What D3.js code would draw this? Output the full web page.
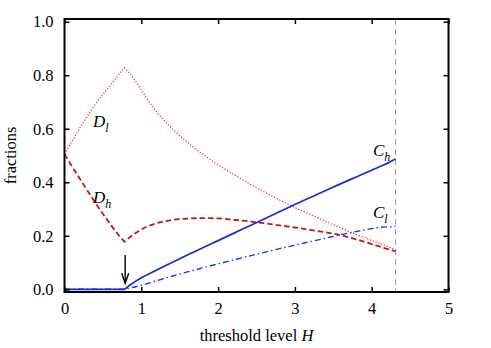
<!DOCTYPE html>
<html>
<head>
<meta charset="utf-8">
<script src="https://cdn.jsdelivr.net/npm/d3@7"></script>
<style>
  body { margin: 0; background: #fff; }
  svg { display: block; font-family: "Liberation Serif", "DejaVu Serif", serif; }
</style>
</head>
<body>
<svg id="chart" width="491" height="348"></svg>
<script>
// threshold level H grid and the four fraction curves
const dlH = [0, 0.2, 0.4, 0.6, 0.78, 0.9, 1.0, 1.1, 1.2, 1.4, 1.6, 1.8, 2.0, 2.2, 2.4, 2.6, 2.8, 3.0, 3.2, 3.4, 3.6, 3.8, 4.0, 4.2, 4.31];
const dlV = [0.505, 0.603, 0.69, 0.764, 0.828, 0.788, 0.745, 0.702, 0.663, 0.601, 0.549, 0.505, 0.465, 0.43, 0.396, 0.364, 0.334, 0.306, 0.28, 0.254, 0.229, 0.205, 0.183, 0.161, 0.148];

const dhH = [0, 0.1, 0.2, 0.3, 0.4, 0.5, 0.6, 0.7, 0.78, 0.9, 1.0, 1.2, 1.4, 1.6, 1.8, 2.0, 2.2, 2.4, 2.6, 2.8, 3.0, 3.2, 3.4, 3.6, 3.8, 4.0, 4.2, 4.31];
const dhV = [0.505, 0.458, 0.413, 0.368, 0.324, 0.282, 0.242, 0.204, 0.178, 0.205, 0.224, 0.247, 0.259, 0.264, 0.266, 0.265, 0.26, 0.254, 0.247, 0.239, 0.231, 0.222, 0.213, 0.202, 0.187, 0.169, 0.151, 0.142];

const chH = [0, 0.78, 0.85, 0.9, 1.0, 1.2, 1.4, 1.6, 1.8, 2.0, 2.2, 2.4, 2.6, 2.8, 3.0, 3.2, 3.4, 3.6, 3.8, 4.0, 4.17, 4.31];
const chV = [0, 0, 0.015, 0.025, 0.043, 0.072, 0.1, 0.128, 0.155, 0.182, 0.209, 0.236, 0.263, 0.29, 0.317, 0.343, 0.369, 0.395, 0.42, 0.445, 0.466, 0.487];

const clH = [0, 0.78, 1.0, 1.2, 1.4, 1.6, 1.8, 2.0, 2.2, 2.4, 2.6, 2.8, 3.0, 3.2, 3.4, 3.6, 3.8, 4.0, 4.07, 4.31];
const clV = [0, 0, 0.015, 0.032, 0.049, 0.065, 0.08, 0.095, 0.11, 0.124, 0.138, 0.152, 0.165, 0.178, 0.191, 0.204, 0.216, 0.227, 0.23, 0.235];

const xTicks = [0, 1, 2, 3, 4, 5];
const yTicks = [0, 0.2, 0.4, 0.6, 0.8, 1.0];
const kinkH = 0.78;     // curves change regime here
const cutoffH = 4.31;   // dashed vertical line
const onsetH = 0.79;    // arrow position

const svg = d3.select('#chart');
const plotL = 64.5, plotR = 448.5, plotT = 19, plotB = 292;

const x = d3.scaleLinear().domain([0, 5]).range([plotL, plotR]);
const y = d3.scaleLinear().domain([-0.01, 1.01]).range([plotB, plotT]);

const line = d3.line().x(d => x(d[0])).y(d => y(d[1])).curve(d3.curveMonotoneX);

// smooth each piece separately so the kink at H = 0.78 stays sharp
function piecewise(hs, vs) {
    const pts = hs.map((h, i) => [h, vs[i]]);
    const a = pts.filter(p => p[0] <= kinkH);
    const b = pts.filter(p => p[0] >= kinkH);
    const c = line(b);
    return a.length > 1 ? line(a) + c.replace(/^M/, 'L') : c;
}

// cutoff line
svg.append('line')
    .attr('x1', x(cutoffH)).attr('x2', x(cutoffH))
    .attr('y1', plotT).attr('y2', plotB)
    .style('stroke', '#999')
    .style('stroke-width', 1)
    .style('stroke-dasharray', '6,4');

// curves
svg.append('path')
    .attr('d', piecewise(dlH, dlV))
    .style('fill', 'none')
    .style('stroke', '#ff3030')
    .style('stroke-width', 1.2)
    .style('stroke-dasharray', '1.3,1.7');

svg.append('path')
    .attr('d', piecewise(dhH, dhV))
    .style('fill', 'none')
    .style('stroke', '#c01818')
    .style('stroke-width', 1.8)
    .style('stroke-dasharray', '5.5,3');

svg.append('path')
    .attr('d', piecewise(clH, clV))
    .style('fill', 'none')
    .style('stroke', '#2030ff')
    .style('stroke-width', 1.4)
    .style('stroke-dasharray', '6,3,1.5,3');

svg.append('path')
    .attr('d', piecewise(chH, chV))
    .style('fill', 'none')
    .style('stroke', '#1a2acc')
    .style('stroke-width', 1.7);

// arrow marking the onset
const ax = x(onsetH);
svg.append('line')
    .attr('x1', ax).attr('x2', ax)
    .attr('y1', y(0.128)).attr('y2', y(0.024))
    .style('stroke', '#000')
    .style('stroke-width', 1.4);
svg.append('path')
    .attr('d', `M${ax - 3.5},${y(0.06)} L${ax},${y(0.022)} L${ax + 3.5},${y(0.06)}`)
    .style('fill', 'none')
    .style('stroke', '#000')
    .style('stroke-width', 1.4);

// frame with inward ticks on all four sides
const tickLen = 5;
const axisG = svg.append('g');
axisG.append('g')
    .attr('transform', `translate(0,${plotB})`)
    .call(d3.axisBottom(x).tickValues(xTicks).tickSizeInner(-tickLen).tickSizeOuter(0).tickPadding(10).tickFormat(d3.format('d')));
axisG.append('g')
    .attr('transform', `translate(0,${plotT})`)
    .call(d3.axisTop(x).tickValues(xTicks).tickSizeInner(-tickLen).tickSizeOuter(0).tickFormat(''));
axisG.append('g')
    .attr('transform', `translate(${plotL},0)`)
    .call(d3.axisLeft(y).tickValues(yTicks).tickSizeInner(-tickLen).tickSizeOuter(0).tickPadding(11).tickFormat(d3.format('.1f')));
axisG.append('g')
    .attr('transform', `translate(${plotR},0)`)
    .call(d3.axisRight(y).tickValues(yTicks).tickSizeInner(-tickLen).tickSizeOuter(0).tickFormat(''));

axisG.selectAll('g').attr('font-family', null).attr('font-size', null);
axisG.selectAll('.domain').remove();
axisG.selectAll('.tick line').style('stroke', '#000').style('stroke-width', 1.5);
axisG.selectAll('.tick text')
    .style('font-family', '"Liberation Serif", serif')
    .style('font-size', '16.5px')
    .style('fill', '#000');

svg.append('rect')
    .attr('x', plotL).attr('y', plotT)
    .attr('width', plotR - plotL).attr('height', plotB - plotT)
    .style('fill', 'none')
    .style('stroke', '#000')
    .style('stroke-width', 2);

// axis titles
svg.append('text')
    .attr('x', (plotL + plotR) / 2).attr('y', 341)
    .attr('text-anchor', 'middle')
    .style('font-size', '16.5px')
    .html('threshold level <tspan font-style="italic">H</tspan>');

svg.append('text')
    .attr('transform', `translate(15.5,${(plotT + plotB) / 2}) rotate(-90)`)
    .attr('text-anchor', 'middle')
    .style('font-size', '16.5px')
    .text('fractions');

// curve labels
const labels = [
    { main: 'D', sub: 'l', x: 93, y: 126.5 },
    { main: 'D', sub: 'h', x: 93, y: 203 },
    { main: 'C', sub: 'h', x: 373, y: 155.5 },
    { main: 'C', sub: 'l', x: 373, y: 217.5 }
];
labels.forEach(l => {
    const t = svg.append('text')
        .attr('x', l.x).attr('y', l.y)
        .style('font-size', '17px')
        .style('font-style', 'italic');
    t.append('tspan').text(l.main);
    t.append('tspan').attr('dy', 5).style('font-size', '12px').text(l.sub);
});
</script>
</body>
</html>
